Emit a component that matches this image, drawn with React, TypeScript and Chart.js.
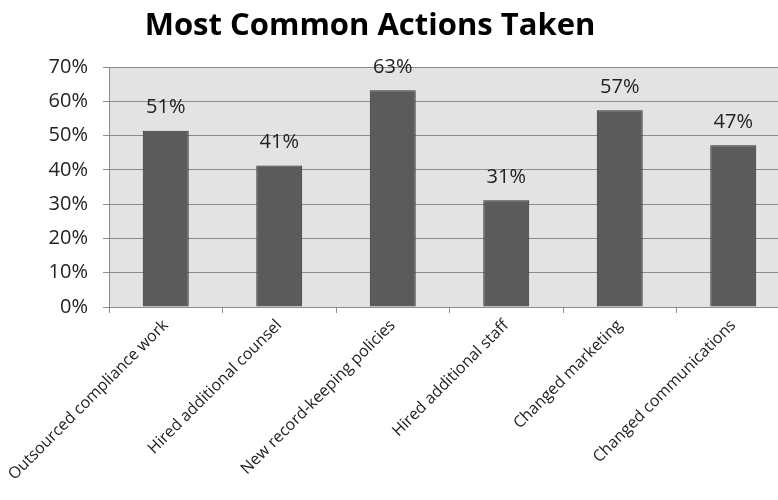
import React, { useEffect, useRef } from "react";
import { Chart, registerables } from "chart.js";

Chart.register(...registerables);

const categories = [
  "Outsourced compliance work",
  "Hired additional counsel",
  "New record-keeping policies",
  "Hired additional staff",
  "Changed marketing",
  "Changed communications",
];
const values = [0.514, 0.413, 0.632, 0.311, 0.574, 0.472];
const yTicks = [0, 0.1, 0.2, 0.3, 0.4, 0.5, 0.6, 0.7];
const titleText = "Most Common Actions Taken";

const OFFSET_X = 50;
const CANVAS_W = 859;
const CANVAS_H = 500;
const FONT = "'Open Sans', sans-serif";

const plotBg = {
  id: "plotBg",
  beforeDraw(chart: any) {
    const { ctx, chartArea } = chart;
    ctx.save();
    ctx.fillStyle = "#e3e3e3";
    ctx.fillRect(chartArea.left, chartArea.top, chartArea.right - chartArea.left, chartArea.bottom - chartArea.top);
    ctx.restore();
  },
};

const dataLabels = {
  id: "dataLabels",
  afterDatasetsDraw(chart: any) {
    const { ctx } = chart;
    const meta = chart.getDatasetMeta(0);
    ctx.save();
    ctx.font = `20px ${FONT}`;
    ctx.fillStyle = "#222";
    ctx.textAlign = "center";
    ctx.textBaseline = "middle";
    meta.data.forEach((bar: any, i: number) => {
      const v = chart.data.datasets[0].data[i] as number;
      ctx.fillText(Math.round(v * 100) + "%", bar.x, bar.y - 23);
    });
    ctx.restore();
  },
};

export default function App() {
  const ref = useRef<HTMLCanvasElement | null>(null);
  useEffect(() => {
    if (!ref.current) return;
    const chart = new Chart(ref.current, {
      type: "bar",
      data: {
        labels: categories,
        datasets: [
          {
            data: values,
            backgroundColor: "#5b5b5b",
            borderColor: "#2f2f2f",
            borderWidth: 1,
            categoryPercentage: 1,
            barPercentage: 0.405,
          },
        ],
      },
      options: {
        responsive: false,
        animation: false,
        layout: { padding: { left: 0, right: 19, top: 0, bottom: 0 } },
        plugins: {
          legend: { display: false },
          tooltip: { enabled: false },
          title: {
            display: true,
            text: titleText,
            color: "#000",
            font: { family: FONT, size: 31, weight: "bold", lineHeight: 1.2 },
            padding: { top: 8, bottom: 21.8 },
          },
        },
        scales: {
          x: {
            afterFit(scale: any) {
              scale.height = 193;
            },
            grid: {
              drawOnChartArea: false,
              drawTicks: true,
              tickLength: 6,
              color: "#8c8c8c",
              offset: true,
            },
            border: { color: "#8c8c8c" },
            ticks: {
              minRotation: 45,
              maxRotation: 45,
              autoSkip: false,
              color: "#222",
              font: { family: FONT, size: 16 },
              padding: 3,
            },
          },
          y: {
            min: 0,
            max: 0.7,
            afterFit(scale: any) {
              scale.width = 109 + OFFSET_X;
            },
            afterBuildTicks(scale: any) {
              scale.ticks = yTicks.map((v) => ({ value: v }));
            },
            grid: { color: "#8c8c8c", tickLength: 6, lineWidth: 1 },
            border: { color: "#8c8c8c" },
            ticks: {
              color: "#222",
              font: { family: FONT, size: 20 },
              padding: 15,
              callback: (v: any) => Math.round(Number(v) * 100) + "%",
            },
          },
        },
      },
      plugins: [plotBg, dataLabels],
    });
    return () => chart.destroy();
  }, []);

  return (
    <div
      style={{
        position: "fixed",
        left: 0,
        top: 0,
        width: 778,
        height: 500,
        overflow: "hidden",
        background: "#fff",
      }}
    >
      <canvas
        ref={ref}
        width={CANVAS_W}
        height={CANVAS_H}
        style={{ position: "absolute", left: -OFFSET_X, top: 0, width: CANVAS_W, height: CANVAS_H }}
      />
    </div>
  );
}
